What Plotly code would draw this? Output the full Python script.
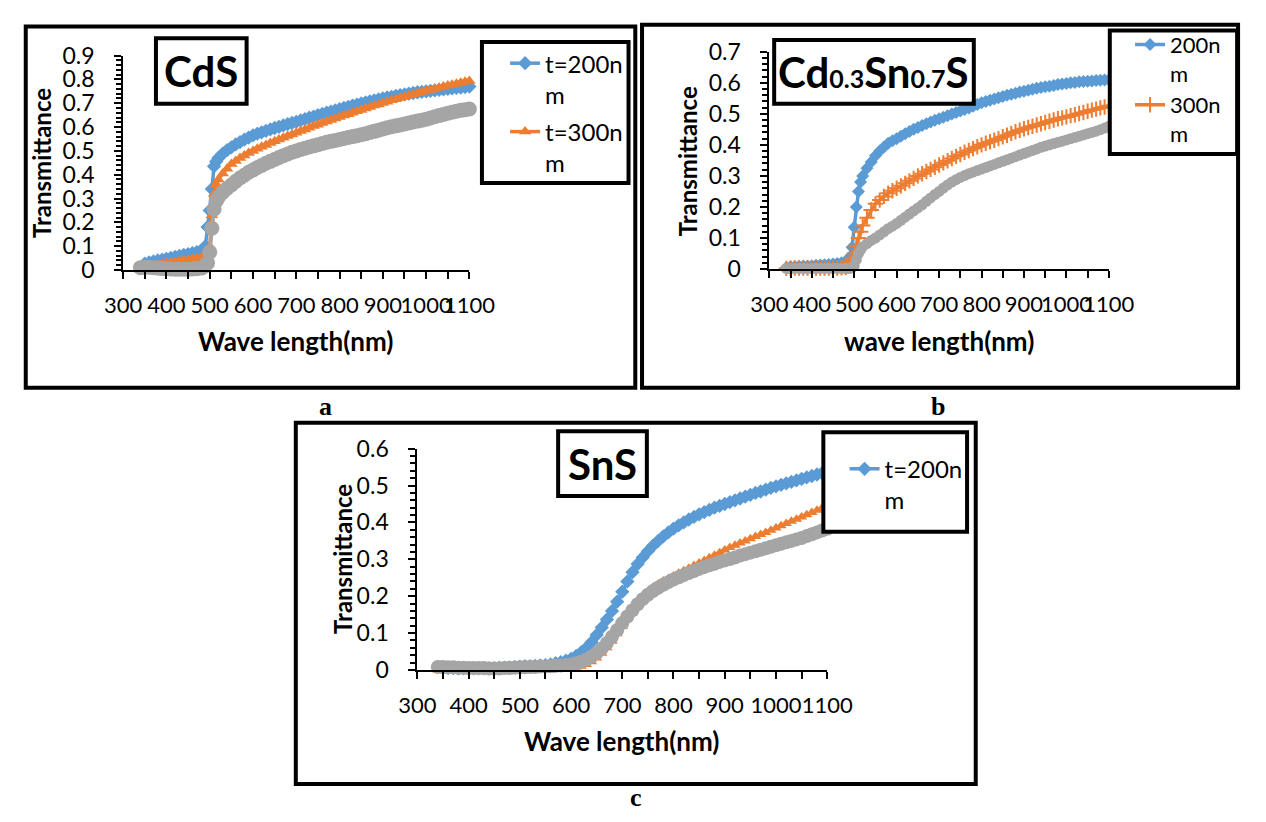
import plotly.graph_objects as go

# ---------------- data ----------------
WL_AB = [340, 350, 360, 370, 380, 390, 400, 410, 420, 430, 440, 450, 460, 470, 480,
         485, 490, 495, 500, 505, 510, 515, 520,
         530, 540, 550, 560, 570, 580, 590, 600, 610, 620,
         630, 640, 650, 660, 670, 680, 690, 700, 710, 720,
         730, 740, 750, 760, 770, 780, 790, 800, 810, 820,
         830, 840, 850, 860, 870, 880, 890, 900, 910, 920,
         930, 940, 950, 960, 970, 980, 990, 1000, 1010, 1020,
         1030, 1040, 1050, 1060, 1070, 1080, 1090, 1100]

CDS_200 = [.010, .027, .032, .036, .040, .043, .047, .051, .055, .059, .063, .067, .071, .075, .080,
           .088, .100, .180, .250, .340, .435, .455, .470,
           .488, .503, .515, .527, .537, .547, .556, .565, .572, .578,
           .584, .590, .596, .601, .607, .612, .617, .622, .628, .633,
           .639, .644, .650, .655, .660, .665, .670, .675, .680, .685,
           .690, .694, .699, .703, .708, .712, .716, .720, .724, .727,
           .731, .734, .737, .740, .743, .746, .748, .750, .752, .754,
           .756, .758, .760, .762, .764, .766, .768, .770]
CDS_300 = [.000, .010, .015, .020, .023, .026, .029, .032, .035, .038, .040, .043, .046, .049, .052,
           .055, .058, .065, .100, .230, .320, .360, .380,
           .405, .425, .445, .458, .470, .481, .491, .500, .509, .517,
           .525, .533, .540, .548, .555, .562, .569, .576, .583, .590,
           .597, .604, .610, .617, .623, .630, .636, .642, .648, .654,
           .660, .666, .672, .678, .684, .690, .695, .701, .706, .712,
           .717, .722, .727, .732, .737, .742, .747, .752, .756, .761,
           .765, .770, .774, .778, .782, .786, .790, .793]
CDS_400 = [.010, .012, .012, .010, .008, .006, .005, .004, .003, .003, .003, .003, .004, .005, .008,
           .012, .020, .030, .075, .175, .255, .290, .305,
           .325, .342, .357, .372, .386, .398, .410, .420, .430, .439,
           .448, .456, .464, .472, .480, .487, .494, .500, .506, .511,
           .516, .521, .526, .531, .536, .540, .544, .548, .552, .556,
           .560, .564, .568, .572, .577, .582, .587, .592, .597, .601,
           .605, .609, .613, .617, .621, .625, .629, .633, .638, .643,
           .648, .653, .658, .662, .666, .670, .673, .676]

CST_200 = [.005, .007, .008, .009, .010, .010, .011, .012, .013, .014, .015, .016, .018, .020, .025,
           .030, .040, .070, .135, .200, .250, .280, .300,
           .325, .345, .365, .380, .393, .405, .413, .420, .428, .436,
           .443, .450, .456, .462, .468, .474, .479, .484, .489, .494,
           .499, .504, .509, .514, .519, .524, .530, .536, .540, .544,
           .548, .552, .556, .560, .563, .566, .570, .573, .576, .579,
           .582, .585, .587, .589, .591, .594, .596, .598, .600, .601,
           .603, .604, .605, .606, .607, .608, .609, .610]
CST_300 = [.002, .003, .003, .003, .003, .003, .003, .003, .003, .003, .003, .003, .003, .004, .005,
           .010, .020, .035, .050, .075, .100, .120, .140,
           .165, .190, .210, .222, .234, .244, .252, .260, .268, .276,
           .284, .292, .300, .307, .314, .321, .328, .335, .342, .349,
           .356, .363, .369, .376, .382, .388, .394, .400, .405, .410,
           .415, .420, .426, .431, .437, .442, .447, .452, .456, .460,
           .464, .468, .472, .476, .480, .484, .487, .490, .494, .497,
           .501, .504, .508, .512, .515, .519, .522, .526]
CST_400 = [.002, .002, .002, .002, .002, .002, .002, .002, .002, .002, .002, .002, .002, .002, .002,
           .002, .002, .005, .010, .030, .050, .062, .072,
           .082, .092, .100, .110, .120, .130, .138, .147, .157, .167,
           .177, .187, .197, .207, .218, .229, .240, .250, .261, .271,
           .280, .288, .295, .301, .307, .312, .317, .322, .327, .332,
           .337, .342, .347, .352, .357, .362, .367, .372, .377, .382,
           .387, .392, .396, .400, .404, .408, .412, .416, .420, .424,
           .428, .432, .436, .440, .444, .449, .454, .460]

WL_C = [340, 350, 360, 370, 380, 390, 400, 410, 420, 430,
        440, 450, 460, 470, 480, 490, 500, 510, 520, 530,
        540, 550, 560, 570, 580, 590, 600, 610, 620, 630,
        640, 650, 660, 670, 680, 690, 700, 710, 720, 730,
        740, 750, 760, 770, 780, 790, 800, 810, 820, 830,
        840, 850, 860, 870, 880, 890, 900, 910, 920, 930,
        940, 950, 960, 970, 980, 990, 1000, 1010, 1020, 1030,
        1040, 1050, 1060, 1070, 1080, 1090, 1100]
SNS_200 = [.008, .006, .005, .005, .004, .004, .004, .004, .004, .004,
           .004, .005, .006, .006, .007, .008, .009, .010, .010, .011,
           .012, .013, .015, .018, .021, .025, .030, .038, .048, .060,
           .075, .095, .115, .137, .160, .185, .212, .240, .265, .287,
           .305, .322, .337, .350, .362, .373, .383, .392, .400, .408,
           .415, .422, .428, .434, .440, .445, .450, .455, .460, .465,
           .470, .475, .480, .484, .489, .494, .498, .502, .506, .510,
           .514, .518, .522, .526, .530, .534, .538]
SNS_300 = [.000, .000, .000, .000, .000, .000, .000, .000, .000, .000,
           .000, .000, .000, .000, .000, .000, .000, .000, .000, .000,
           .000, .000, .000, .001, .002, .003, .005, .007, .010, .015,
           .022, .032, .045, .060, .078, .098, .118, .140, .162, .182,
           .200, .213, .224, .233, .241, .248, .255, .262, .269, .276,
           .283, .290, .297, .304, .311, .318, .325, .332, .338, .344,
           .350, .356, .362, .367, .373, .379, .385, .391, .397, .403,
           .409, .415, .421, .427, .433, .439, .445]
SNS_400 = [.008, .008, .007, .007, .006, .006, .005, .005, .005, .005,
           .004, .004, .004, .005, .005, .006, .007, .007, .008, .008,
           .009, .009, .010, .011, .012, .013, .015, .018, .022, .028,
           .036, .046, .058, .073, .090, .108, .127, .145, .162, .178,
           .192, .204, .214, .223, .231, .238, .245, .251, .257, .263,
           .268, .274, .279, .284, .288, .293, .297, .301, .305, .310,
           .314, .318, .322, .326, .330, .334, .338, .342, .346, .350,
           .354, .358, .363, .368, .373, .378, .383]

X_TICKS = [300, 400, 500, 600, 700, 800, 900, 1000, 1100]

# ---------------- styling ----------------
W, H = 1266, 822
BLUE, ORANGE, GRAY = '#5B9BD5', '#ED7D31', '#A5A5A5'
FONT = 'Lato, Carlito, Calibri, sans-serif'


def px(x):
    return x / W


def py(y):
    return 1 - y / H


fig = go.Figure()


def series(x, y, name, color, symbol, size, xa, ya, leg, show, group, lw=3):
    marker = dict(symbol=symbol, size=size, color=color, line=dict(width=0))
    if symbol == 'cross-thin':
        marker['line'] = dict(color=color, width=2)
    fig.add_trace(go.Scatter(
        x=x, y=y, name=name, mode='lines+markers',
        line=dict(color=color, width=lw), marker=marker,
        xaxis=xa, yaxis=ya, legend=leg, showlegend=show, legendgroup=group,
        cliponaxis=False))


# panel a
series(WL_AB, CDS_200, 't=200n<br>m', BLUE, 'diamond', 11, 'x', 'y', 'legend', True, 'a1', lw=3.5)
series(WL_AB, CDS_300, 't=300n<br>m', ORANGE, 'triangle-up', 11, 'x', 'y', 'legend', True, 'a2', lw=3.5)
series(WL_AB, CDS_400, 't=400nm', GRAY, 'circle', 15, 'x', 'y', 'legend', False, 'a3', lw=4)
# panel b
series(WL_AB, CST_200, '200n<br>m', BLUE, 'diamond', 10, 'x2', 'y2', 'legend2', True, 'b1', lw=3.5)
series(WL_AB, CST_300, '300n<br>m', ORANGE, 'cross-thin', 11, 'x2', 'y2', 'legend2', True, 'b2', lw=3.5)
series(WL_AB, CST_400, '400nm', GRAY, 'circle', 11, 'x2', 'y2', 'legend2', False, 'b3', lw=6)
# panel c
series(WL_C, SNS_200, 't=200n<br>m', BLUE, 'diamond', 11, 'x3', 'y3', 'legend3', True, 'c1', lw=3.5)
series(WL_C, SNS_300, 't=300nm', ORANGE, 'triangle-up', 10, 'x3', 'y3', 'legend3', False, 'c2')
series(WL_C, SNS_400, 't=400nm', GRAY, 'circle', 14, 'x3', 'y3', 'legend3', False, 'c3', lw=4)


def xaxis(d0, d1, anchor):
    return dict(domain=[px(d0), px(d1)], anchor=anchor, range=[300, 1100],
                tickmode='array', tickvals=X_TICKS, ticktext=[str(v) for v in X_TICKS],
                showline=True, linecolor='black', linewidth=2,
                ticks='outside', ticklen=7, tickwidth=2, tickcolor='black',
                minor=dict(dtick=50, tick0=300, ticks='outside', ticklen=7, tickwidth=2, tickcolor='black'),
                showgrid=False, zeroline=False, tickangle=0, ticklabelstandoff=8,
                tickfont=dict(family=FONT, size=22, color='black'), fixedrange=True)


def yaxis(y0, y1, anchor, top):
    return dict(domain=[py(y0), py(y1)], anchor=anchor, range=[0, top], dtick=0.1, tick0=0,
                showline=True, linecolor='black', linewidth=2,
                ticks='outside', ticklen=7, tickwidth=2, tickcolor='black',
                minor=dict(dtick=0.02, ticks='outside', ticklen=5, tickwidth=1.5, tickcolor='black'),
                showgrid=False, zeroline=False, ticklabelstandoff=15,
                tickfont=dict(family=FONT, size=23, color='black'), fixedrange=True)


def legend(x, y, size, gap):
    return dict(x=px(x), y=py(y), xanchor='left', yanchor='top', bgcolor='rgba(0,0,0,0)',
                borderwidth=0, font=dict(family=FONT, size=size, color='black'),
                valign='top', tracegroupgap=gap, itemclick=False, itemdoubleclick=False)


shapes = []


def box(x0, y0, x1, y1, w=4, fill='rgba(0,0,0,0)'):
    shapes.append(dict(type='rect', xref='paper', yref='paper', x0=px(x0), x1=px(x1),
                       y0=py(y1), y1=py(y0), line=dict(color='black', width=w),
                       fillcolor=fill, layer='above'))


# outer frames
box(7, 12, 639, 386)
box(646, 10, 1264, 386)
box(287, 422, 992, 796)
# title boxes
box(142, 24, 236, 92)
box(783, 26, 990, 92)
box(559, 431, 651, 498)
# legend boxes
box(480, 28, 632, 174, fill='white')
box(1131, 16, 1263, 144, fill='white')
box(834, 432, 983, 535, fill='white')

annotations = []


def text(x, y, t, size, family=FONT, angle=0, color='black'):
    annotations.append(dict(x=px(x), y=py(y), xref='paper', yref='paper', text=t, showarrow=False,
                            xanchor='center', yanchor='middle', textangle=angle,
                            font=dict(family=family, size=size, color=color)))


# panel titles
text(189, 58, '<b>CdS</b>', 42)
text(886, 59, "<b>Cd<span style='font-size:25px'>0.3</span>Sn<span style='font-size:25px'>0.7</span>S</b>", 42)
text(605, 465, '<b>SnS</b>', 42)
# axis titles
text(24, 153, '<b>Transmittance</b>', 24, angle=-90)
text(287, 338, '<b>Wave length(nm)</b>', 26)
text(693, 151, '<b>Transmittance</b>', 24, angle=-90)
text(954, 338, '<b>wave length(nm)</b>', 26)
text(336, 563, '<b>Transmittance</b>', 24, angle=-90)
text(625, 752, '<b>Wave length(nm)</b>', 26)
# panel letters
SERIF = 'Liberation Serif, Times New Roman, serif'
text(318, 405, '<b>a</b>', 26, family=SERIF)
text(953, 405, '<b>b</b>', 26, family=SERIF)
text(640, 810, '<b>c</b>', 26, family=SERIF)

fig.update_layout(
    width=W, height=H, autosize=False,
    margin=dict(l=0, r=0, t=0, b=0, pad=0),
    paper_bgcolor='white', plot_bgcolor='white',
    xaxis=xaxis(108, 467, 'y'), yaxis=yaxis(264, 42, 'x', 0.9),
    xaxis2=xaxis(778, 1130, 'y2'), yaxis2=yaxis(263, 38, 'x2', 0.7),
    xaxis3=xaxis(413, 838, 'y3'), yaxis3=yaxis(678, 449, 'x3', 0.6),
    legend=legend(504, 27, 24, 3), legend2=legend(1152, 9, 22, 0), legend3=legend(856, 447, 24, 0),
    shapes=shapes, annotations=annotations,
    showlegend=True,
)

fig.write_html('out.html',
               post_script="document.body.style.margin='0';document.body.style.overflow='hidden';")
